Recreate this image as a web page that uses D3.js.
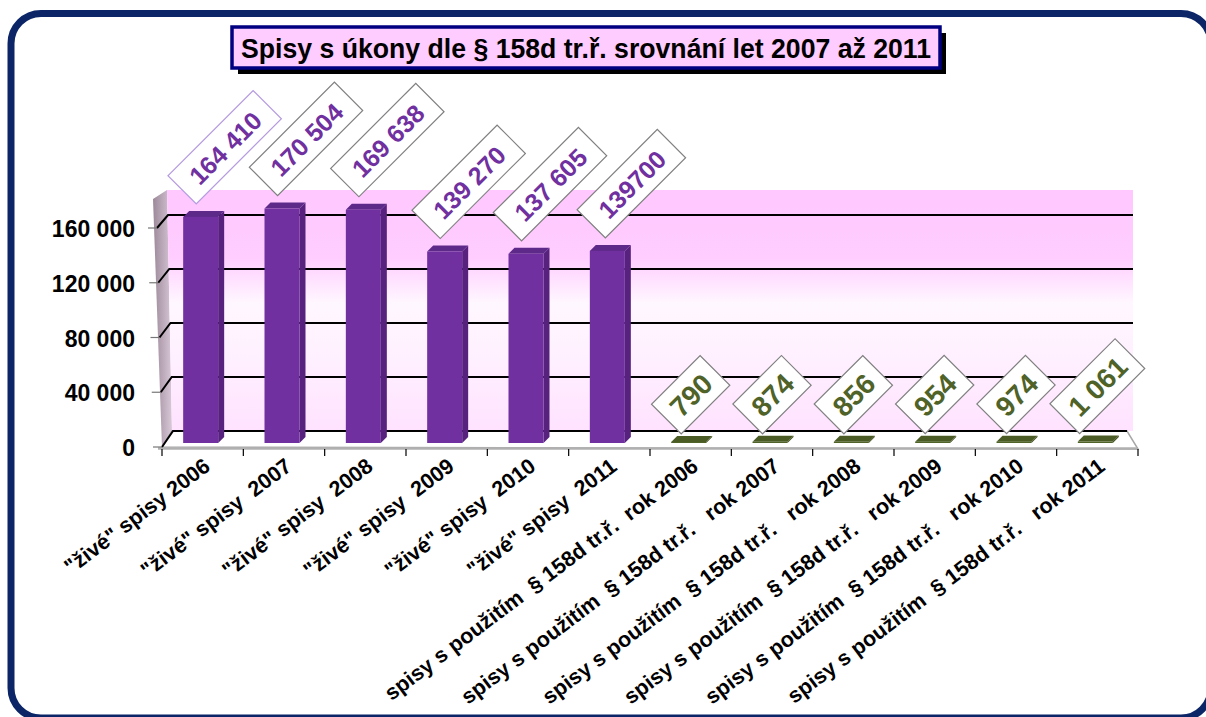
<!DOCTYPE html>
<html>
<head>
<meta charset="utf-8">
<script src="https://cdn.jsdelivr.net/npm/d3@7"></script>
<style>
  html, body { margin: 0; padding: 0; background: #fff; }
  svg { display: block; font-family: "Liberation Sans", Arial, sans-serif; }
</style>
</head>
<body>
<svg id="chart" width="1206" height="717"></svg>
<script>
const title = 'Spisy s úkony dle § 158d tr.ř. srovnání let 2007 až 2011';

const categories = [
  '"živé" spisy 2006',
  '"živé" spisy  2007',
  '"živé" spisy  2008',
  '"živé" spisy  2009',
  '"živé" spisy  2010',
  '"živé" spisy  2011',
  'spisy s použitím  § 158d tr.ř.  rok 2006',
  'spisy s použitím  § 158d tr.ř.   rok 2007',
  'spisy s použitím  § 158d tr.ř.   rok 2008',
  'spisy s použitím  § 158d tr.ř.   rok 2009',
  'spisy s použitím  § 158d tr.ř.   rok 2010',
  'spisy s použitím  § 158d tr.ř.   rok 2011'
];

const liveValues = [164410, 170504, 169638, 139270, 137605, 139700];
const liveLabels = ['164 410', '170 504', '169 638', '139 270', '137 605', '139700'];
const usedValues = [790, 874, 856, 954, 974, 1061];
const usedLabels = ['790', '874', '856', '954', '974', '1 061'];

const yTicks = [0, 40000, 80000, 120000, 160000];
const yTickLabels = ['0', '40 000', '80 000', '120 000', '160 000'];

const svg = d3.select('#chart');

// frame
svg.append('rect')
  .attr('x', 11).attr('y', 13.5)
  .attr('width', 1200).attr('height', 704.5)
  .attr('rx', 30).attr('ry', 30)
  .attr('fill', '#fff')
  .attr('stroke', '#0b2566').attr('stroke-width', 7);

// title box
const tb = { x: 232, y: 27, w: 708, h: 41 };
svg.append('rect')
  .attr('x', tb.x + 6).attr('y', tb.y + 6)
  .attr('width', tb.w).attr('height', tb.h)
  .attr('fill', '#000');
svg.append('rect')
  .attr('x', tb.x).attr('y', tb.y)
  .attr('width', tb.w).attr('height', tb.h)
  .attr('fill', '#ffccff')
  .attr('stroke', '#000080').attr('stroke-width', 3.5);
svg.append('text')
  .attr('x', tb.x + tb.w / 2).attr('y', tb.y + tb.h / 2 + 1)
  .attr('text-anchor', 'middle').attr('dominant-baseline', 'central')
  .attr('font-size', 27).attr('font-weight', 'bold')
  .attr('textLength', 690).attr('lengthAdjust', 'spacingAndGlyphs')
  .text(title);

// scales
const x = d3.scaleBand().domain(categories).range([162, 1138]);
const yBar = d3.scaleLinear([0, 160000], [443, 223]);
const yFront = d3.scaleLinear([0, 160000], [447, 228]);
const yBack = d3.scaleLinear([0, 160000], [431, 215]);

const wallTop = 190, wallRight = 1133;

// gradients
const defs = svg.append('defs');
const gWall = defs.append('linearGradient').attr('id', 'wall')
  .attr('x1', 0).attr('y1', 0).attr('x2', 0).attr('y2', 1);
[[0, '#ffc8ff'], [0.28, '#ffcdff'], [0.47, '#fff7ff'], [0.7, '#fff0ff'], [1, '#ffe2ff']]
  .forEach(([o, c]) => gWall.append('stop').attr('offset', o).attr('stop-color', c));
const gSide = defs.append('linearGradient').attr('id', 'side')
  .attr('x1', 0).attr('y1', 0).attr('x2', 1).attr('y2', 0);
[[0, '#9c8898'], [1, '#d8c8d8']]
  .forEach(([o, c]) => gSide.append('stop').attr('offset', o).attr('stop-color', c));

// left wall
svg.append('path')
  .attr('d', `M153,${wallTop + 9}L167,${wallTop}L172,${yBack(0)}L162,${yFront(0)}Z`)
  .attr('fill', 'url(#side)');

// back wall
svg.append('path')
  .attr('d', `M167,${wallTop}L${wallRight},${wallTop}L${wallRight},${yBack(0)}L172,${yBack(0)}Z`)
  .attr('fill', 'url(#wall)');

// floor
svg.append('path')
  .attr('d', `M162,${yFront(0)}L172,${yBack(0)}L1127,${yBack(0)}L1138,${yFront(0) + 2}Z`)
  .attr('fill', '#fff').attr('stroke', '#a6a6a6').attr('stroke-width', 1.5);
svg.append('line')
  .attr('x1', 158).attr('x2', 1138)
  .attr('y1', yFront(0) + 1.5).attr('y2', yFront(0) + 1.5)
  .attr('stroke', '#b0b0b0').attr('stroke-width', 2.5);

// gridlines + y ticks
const grid = svg.append('g');
yTicks.forEach(v => {
  const xl = 157 + 10 * (1 - v / 160000) * 0.5;
  grid.append('path')
    .attr('d', `M${xl},${yFront(v)}L${xl + 11},${yBack(v)}L${v === 0 ? 1127 : wallRight},${yBack(v)}`)
    .attr('fill', 'none').attr('stroke', '#000').attr('stroke-width', 2);
  grid.append('line')
    .attr('x1', xl - 9).attr('x2', xl)
    .attr('y1', yFront(v)).attr('y2', yFront(v))
    .attr('stroke', '#777').attr('stroke-width', 1.2);
});

svg.append('g').selectAll('text')
  .data(yTicks)
  .join('text')
  .attr('x', 135)
  .attr('y', d => yFront(d) + 1)
  .attr('text-anchor', 'end').attr('dominant-baseline', 'central')
  .attr('font-size', 23).attr('font-weight', 'bold')
  .text((d, i) => yTickLabels[i]);

// x ticks
const edges = categories.map(c => x(c)).concat([x.range()[1]]);
svg.append('g').selectAll('line')
  .data(edges)
  .join('line')
  .attr('x1', d => d).attr('x2', d => d)
  .attr('y1', yFront(0) + 2).attr('y2', yFront(0) + 9)
  .attr('stroke', '#000').attr('stroke-width', 1.2);

// bars
const rows = categories.map((c, i) => {
  const live = i < liveValues.length;
  const j = live ? i : i - liveValues.length;
  return {
    cat: c,
    value: live ? liveValues[j] : usedValues[j],
    label: live ? liveLabels[j] : usedLabels[j],
    live, idx: i
  };
});

const COLORS = {
  live: { front: '#7030a0', side: '#56227e', top: '#5e2a8a', text: '#7030a0' },
  used: { front: '#4f6228', side: '#3b4a1c', top: '#4a5c24', text: '#4f6228' }
};

const bw = 35, dx = 6, dy = 6;
const bars = svg.append('g').selectAll('g')
  .data(rows)
  .join('g');

bars.each(function (d) {
  const g = d3.select(this);
  const col = d.live ? COLORS.live : COLORS.used;
  const cx = x(d.cat) + x.bandwidth() / 2;
  const x0 = cx - bw / 2 - 2, x1 = x0 + bw;
  const yt = yBar(d.value), yb = yBar(0);
  g.append('path')
    .attr('d', `M${x1},${yt}L${x1 + dx},${yt - dy}L${x1 + dx},${yb - dy}L${x1},${yb}Z`)
    .attr('fill', col.side);
  g.append('path')
    .attr('d', `M${x0},${yt}L${x0 + dx},${yt - dy}L${x1 + dx},${yt - dy}L${x1},${yt}Z`)
    .attr('fill', col.top);
  g.append('rect')
    .attr('x', x0).attr('y', yt)
    .attr('width', bw).attr('height', Math.max(0.5, yb - yt))
    .attr('fill', col.front);
});

// value labels (rotated boxes)
const labelG = svg.append('g');
rows.forEach(d => {
  const col = d.live ? COLORS.live : COLORS.used;
  const fs = d.live ? 25 : 28;
  const pad = d.live ? 15 : 11;
  const h = d.live ? 40 : 42;
  const cx = x(d.cat) + x.bandwidth() / 2;
  const g = labelG.append('g');
  const t = g.append('text')
    .attr('font-size', fs).attr('font-weight', 'bold')
    .attr('fill', col.text)
    .attr('text-anchor', 'middle').attr('dominant-baseline', 'central')
    .text(d.label);
  const w = t.node().getComputedTextLength() + 2 * pad;
  const shift = d.live ? 22 : 0;
  const gap = d.live ? 7 : 2;
  const bx = cx + shift - 0.3535 * (w - h);
  const by = yBar(d.value) - dy - gap;
  g.attr('transform', `translate(${bx},${by}) rotate(-45)`);
  g.insert('rect', 'text')
    .attr('x', 0).attr('y', -h)
    .attr('width', w).attr('height', h)
    .attr('fill', '#fff')
    .attr('stroke', d.idx === 0 ? '#b59be0' : '#808080')
    .attr('stroke-width', 1.2);
  t.attr('x', w / 2).attr('y', -h / 2 + 1);
});

// category labels
svg.append('g').selectAll('text')
  .data(categories)
  .join('text')
  .attr('transform', d => `translate(${x(d) + x.bandwidth() / 2 + 9},${yFront(0) + 22}) rotate(-37)`)
  .attr('text-anchor', 'end')
  .attr('font-size', 21.5).attr('font-weight', 'bold')
  .style('white-space', 'pre')
  .text(d => d);
</script>
</body>
</html>
